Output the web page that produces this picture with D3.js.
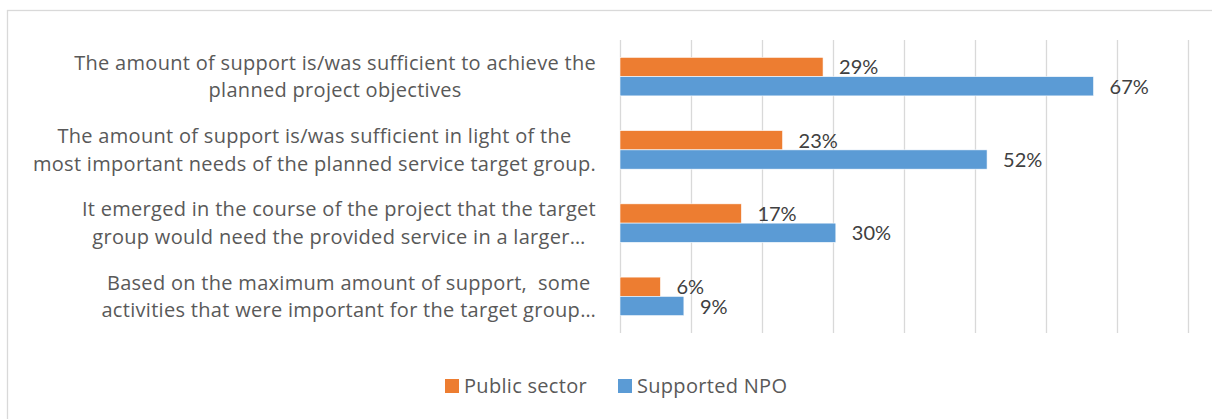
<!DOCTYPE html>
<html>
<head>
<meta charset="utf-8">
<script src="https://cdn.jsdelivr.net/npm/d3@7"></script>
<style>
  body { margin: 0; background: #fff; }
  text { font-family: Lato, "Open Sans", sans-serif; white-space: pre; }
  .cat, .leg { font-family: "Open Sans", Lato, sans-serif; letter-spacing: 0.3px; }
</style>
</head>
<body>
<div id="viz"></div>
<script>
var w = 1212;
var h = 419;

// category labels, one entry per wrapped line (as shown on the chart)
var categories = [
    ["The amount of support is/was sufficient to achieve the", "planned project objectives"],
    ["The amount of support is/was sufficient in light of the", "most important needs of the planned service target group."],
    ["It emerged in the course of the project that the target", "group would need the provided service in a larger\u2026"],
    ["Based on the maximum amount of support,  some", "activities that were important for the target group\u2026"]
];
var seriesNames = ["Public sector", "Supported NPO"];
var publicSector = [0.286, 0.229, 0.171, 0.057];
var supportedNpo = [0.667, 0.517, 0.304, 0.09];
var colors = ["#ED7D31", "#5B9BD5"];
var gridTicks = [0, 0.1, 0.2, 0.3, 0.4, 0.5, 0.6, 0.7, 0.8];

var svg = d3.select("#viz")
    .append("svg")
    .attr("width", w)
    .attr("height", h);

// chart frame
svg.append("rect")
    .attr("x", 7.5)
    .attr("y", 10.5)
    .attr("width", w + 20)
    .attr("height", h + 20)
    .attr("fill", "#fff")
    .attr("stroke", "#d9d9d9")
    .attr("stroke-width", 1.3);

var x = d3.scaleLinear()
    .domain([0, 0.8])
    .range([620, 1188]);

var y = d3.scaleBand()
    .domain(d3.range(categories.length))
    .range([40, 333])
    .paddingInner(0.9 / 1.9)
    .paddingOuter(0.45 / 1.9);

var ySub = d3.scaleBand()
    .domain([0, 1])
    .range([0, y.bandwidth()]);

// gridlines
svg.append("g").selectAll("line")
    .data(gridTicks)
    .enter()
    .append("line")
    .attr("x1", function (d) { return Math.round(x(d)) + 0.5; })
    .attr("x2", function (d) { return Math.round(x(d)) + 0.5; })
    .attr("y1", 40)
    .attr("y2", 333)
    .attr("stroke", "#d9d9d9")
    .attr("stroke-width", 1.3);

var rows = categories.map(function (c, i) {
    return [publicSector[i], supportedNpo[i]];
});

var groups = svg.append("g").selectAll("g")
    .data(rows)
    .enter()
    .append("g")
    .attr("transform", function (d, i) { return "translate(0," + y(i) + ")"; });

groups.selectAll("rect")
    .data(function (d) { return d; })
    .enter()
    .append("rect")
    .attr("x", x(0))
    .attr("y", function (d, j) { return ySub(j); })
    .attr("width", function (d) { return x(d) - x(0); })
    .attr("height", ySub.bandwidth())
    .attr("fill", function (d, j) { return colors[j]; })
    .attr("stroke", "#fff")
    .attr("stroke-width", 0.6);

// data labels
groups.selectAll("text")
    .data(function (d) { return d; })
    .enter()
    .append("text")
    .attr("x", function (d) { return x(d) + 16; })
    .attr("y", function (d, j) { return ySub(j) + ySub.bandwidth() / 2 + 7.5; })
    .attr("fill", "#404040")
    .style("font-size", "20px")
    .text(function (d) { return Math.round(d * 100) + "%"; });

// category labels: block right-aligned at the axis, lines centred inside
var labelRight = 596;
var lineGap = 27.5;
var catGroups = svg.append("g").selectAll("g")
    .data(categories)
    .enter()
    .append("g");

catGroups.each(function (lines, i) {
    var g = d3.select(this);
    var cy = y(i) + y.bandwidth() / 2;
    var texts = g.selectAll("text")
        .data(lines)
        .enter()
        .append("text")
        .attr("class", "cat")
        .attr("text-anchor", "middle")
        .attr("fill", "#595959")
        .style("font-size", "20px")
        .attr("y", function (d, k) { return cy + (k - (lines.length - 1) / 2) * lineGap + 7; })
        .text(function (d) { return d; });
    var maxW = 0;
    texts.each(function () { maxW = Math.max(maxW, this.getComputedTextLength()); });
    texts.attr("x", labelRight - maxW / 2);
});

// legend
var legendX = [445, 618];
var legend = svg.append("g").selectAll("g")
    .data(seriesNames)
    .enter()
    .append("g")
    .attr("transform", function (d, i) { return "translate(" + legendX[i] + ",379)"; });

legend.append("rect")
    .attr("width", 14)
    .attr("height", 14)
    .attr("fill", function (d, i) { return colors[i]; });

legend.append("text")
    .attr("class", "leg")
    .attr("x", 19)
    .attr("y", 14)
    .attr("fill", "#595959")
    .style("font-size", "20px")
    .text(function (d) { return d; });
</script>
</body>
</html>
